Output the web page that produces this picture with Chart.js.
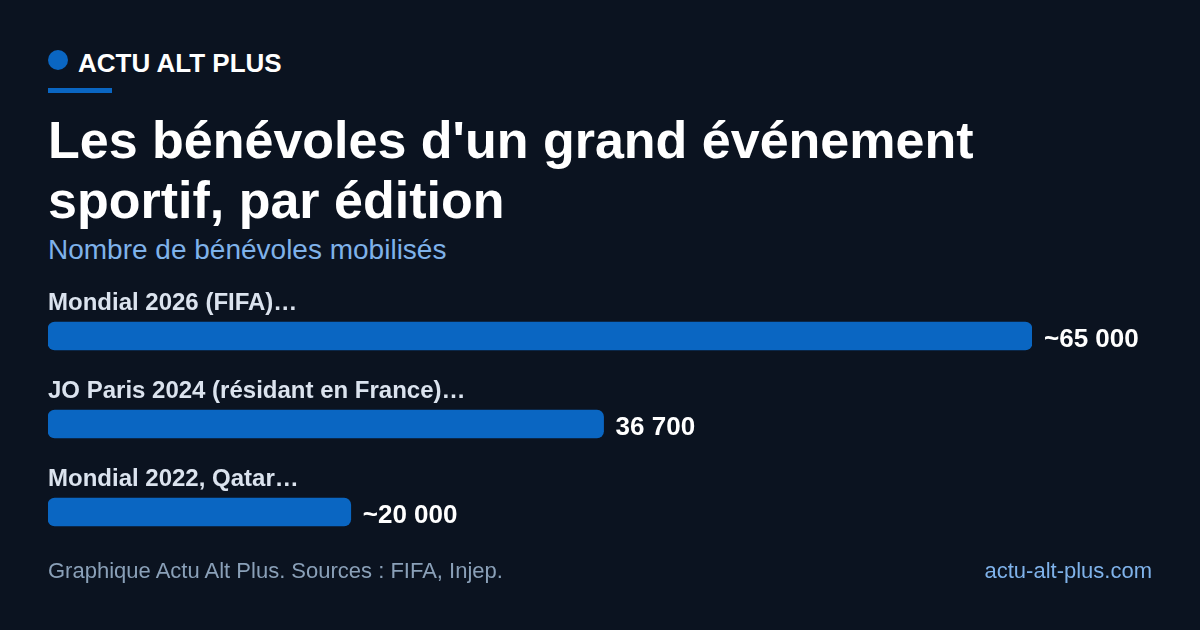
<!DOCTYPE html>
<html lang="fr">
<head>
<meta charset="utf-8">
<title>Les bénévoles d'un grand événement sportif</title>
<script src="https://cdn.jsdelivr.net/npm/chart.js@4"></script>
<style>
  html, body { margin: 0; padding: 0; }
  body {
    width: 1200px; height: 630px; overflow: hidden; position: relative;
    background: #0b1320; font-family: "Liberation Sans", Arial, sans-serif;
  }
  .abs { position: absolute; white-space: nowrap; }
  #dot { left: 48px; top: 50px; width: 20px; height: 20px; border-radius: 50%; background: #0a66c2; }
  #brand { left: 78px; top: 50px; font-size: 26px; line-height: 26px; font-weight: 700; color: #ffffff; }
  #rule { left: 48px; top: 88px; width: 64px; height: 5px; background: #0a66c2; }
  #title { left: 48px; top: 110px; font-size: 52px; line-height: 60px; font-weight: 700; color: #ffffff; }
  #subtitle { left: 48px; top: 236px; font-size: 28px; line-height: 28px; color: #7fb2ea; }
  #source { left: 48px; top: 560px; font-size: 22px; line-height: 22px; color: #8aa0b8; }
  #site { right: 48px; top: 560px; font-size: 22px; line-height: 22px; color: #7fb2ea; }
  #chart { position: absolute; left: 0; top: 280px; }
</style>
</head>
<body>
<div class="abs" id="dot"></div>
<div class="abs" id="brand">ACTU ALT PLUS</div>
<div class="abs" id="rule"></div>
<div class="abs" id="title">Les bénévoles d'un grand événement<br>sportif, par édition</div>
<div class="abs" id="subtitle">Nombre de bénévoles mobilisés</div>
<canvas id="chart" width="1200" height="290"></canvas>
<div class="abs" id="source">Graphique Actu Alt Plus. Sources : FIFA, Injep.</div>
<div class="abs" id="site">actu-alt-plus.com</div>

<script>
var editions = ["Mondial 2026 (FIFA)…", "JO Paris 2024 (résidant en France)…", "Mondial 2022, Qatar…"];
var volunteers = [65000, 36700, 20000];
var valueLabels = ["~65 000", "36 700", "~20 000"];

// labels above each bar + value at the end of the bar
var barLabels = {
  id: 'barLabels',
  afterDatasetsDraw: function (chart) {
    var ctx = chart.ctx;
    var meta = chart.getDatasetMeta(0);
    var left = chart.chartArea.left;
    ctx.save();
    ctx.textAlign = 'left';
    ctx.textBaseline = 'alphabetic';
    meta.data.forEach(function (bar, i) {
      ctx.font = 'bold 24px "Liberation Sans", Arial, sans-serif';
      ctx.fillStyle = '#dbe3ee';
      ctx.fillText(editions[i], left, bar.y - 26);
      ctx.font = 'bold 26px "Liberation Sans", Arial, sans-serif';
      ctx.fillStyle = '#ffffff';
      ctx.fillText(valueLabels[i], bar.x + 12, bar.y + 11);
    });
    ctx.restore();
  }
};

var chrt = document.getElementById("chart").getContext("2d");
var chartId = new Chart(chrt, {
  type: 'bar',
  data: {
    labels: editions,
    datasets: [{
      data: volunteers,
      backgroundColor: '#0a66c2',
      borderRadius: 7,
      borderSkipped: false,
      barThickness: 28
    }]
  },
  options: {
    indexAxis: 'y',
    responsive: false,
    animation: false,
    layout: { padding: { left: 48, right: 168, top: 12, bottom: 14 } },
    scales: {
      x: { display: false, min: 0, max: 65000 },
      y: { display: false }
    },
    plugins: {
      legend: { display: false },
      tooltip: { enabled: false }
    }
  },
  plugins: [barLabels]
});
</script>
</body>
</html>
